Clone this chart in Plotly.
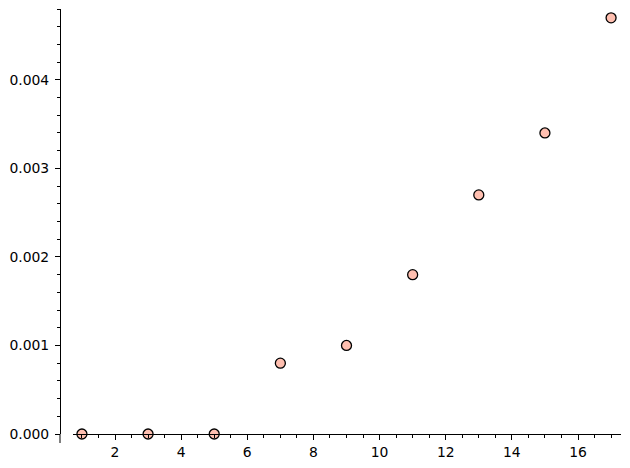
import plotly.graph_objects as go

x_vals = [1, 3, 5, 7, 9, 11, 13, 15, 17]
y_vals = [0.0, 0.0, 0.0, 0.0008, 0.001, 0.0018, 0.0027, 0.0034, 0.0047]
y_ticks = [0.000, 0.001, 0.002, 0.003, 0.004]
x_ticks = [2, 4, 6, 8, 10, 12, 14, 16]

# page body has an 8px default margin; compensate
W, H = 622, 460
ml, mr, mt, mb = 52, 9, 1, 34
pw = W - ml - mr

fig = go.Figure()
fig.add_trace(go.Scatter(
    x=x_vals, y=y_vals, mode="markers", cliponaxis=False,
    marker=dict(size=10, color="#ffbfb0", line=dict(color="black", width=1.3)),
))

font = dict(family="DejaVu Sans", size=13.9, color="black")
fig.update_layout(
    width=W, height=H, margin=dict(l=ml, r=mr, t=mt, b=mb, autoexpand=False),
    plot_bgcolor="white", paper_bgcolor="white", showlegend=False,
    font=font,
    xaxis=dict(domain=[13 / pw, 1], range=[0.73, 17.30],
               showgrid=False, zeroline=False, showline=True, linecolor="black", linewidth=1,
               tickmode="array", tickvals=x_ticks, ticks="outside", ticklen=5, tickwidth=1,
               tickcolor="black", tickfont=font, automargin=False, ticklabelstandoff=0,
               minor=dict(dtick=0.5, tick0=0, ticks="outside", ticklen=3, tickwidth=1, tickcolor="black"),
               anchor="y"),
    yaxis=dict(range=[0, 0.0048], anchor="free", position=0, automargin=False,
               showgrid=False, zeroline=False, showline=True, linecolor="black", linewidth=1,
               tickmode="array", tickvals=y_ticks, tickformat=".3f", ticks="outside", ticklen=5,
               tickwidth=1, tickcolor="black", tickfont=font, ticklabelstandoff=3,
               minor=dict(dtick=0.0002, tick0=0, ticks="outside", ticklen=3, tickwidth=1, tickcolor="black")),
)
fig.add_shape(type="line", xref="paper", yref="paper", x0=0, x1=0, y0=0, y1=-9 / (H - mt - mb),
              line=dict(color="black", width=1))
fig.write_html("out.html")
